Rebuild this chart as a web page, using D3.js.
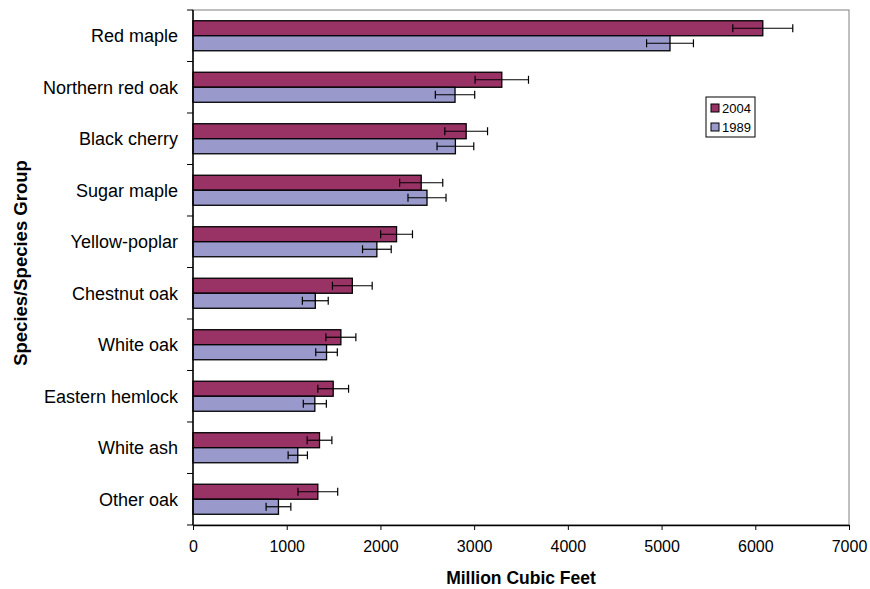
<!DOCTYPE html>
<html>
<head>
<meta charset="utf-8">
<script src="https://cdn.jsdelivr.net/npm/d3@7"></script>
<style>
body{margin:0;background:#fff;}
text{font-family:"Liberation Sans",Arial,sans-serif;}
</style>
</head>
<body>
<svg id="c" width="870" height="589"></svg>
<script>
const categories = ["Red maple","Northern red oak","Black cherry","Sugar maple","Yellow-poplar","Chestnut oak","White oak","Eastern hemlock","White ash","Other oak"];
const seriesNames = ["2004","1989"];
const values2004 = [6080,3295,2915,2435,2172,1700,1578,1496,1350,1332];
const values1989 = [5090,2796,2800,2497,1962,1305,1425,1300,1118,912];
const err2004 = [320,285,228,230,170,212,160,164,132,212];
const err1989 = [250,210,196,203,153,138,115,123,103,132];
const xTicks = [0,1000,2000,3000,4000,5000,6000,7000];
const colors = ["#993366","#9999CC"];

const svg = d3.select("#c");
const L=193, R=849, T=10, B=525;
const x = d3.scaleLinear().domain([0,7000]).range([L,R]);
const y = d3.scaleBand().domain(categories).range([T,B]).paddingInner(0.417).paddingOuter(0.2087);
const ys = d3.scaleBand().domain(seriesNames).range([0,y.bandwidth()]);

// frame
svg.append("rect").attr("x",L).attr("y",T).attr("width",R-L).attr("height",B-T)
  .attr("fill","none").attr("stroke","#808080").attr("stroke-width",1);

const data = [values2004, values1989];
const errs = [err2004, err1989];
seriesNames.forEach((s,si)=>{
  const g = svg.append("g");
  g.selectAll("rect").data(categories).join("rect")
    .attr("x",x(0)).attr("y",d=>y(d)+ys(s))
    .attr("width",(d,i)=>x(data[si][i])-x(0)).attr("height",ys.bandwidth())
    .attr("fill",colors[si]).attr("stroke","#000").attr("stroke-width",1.3);
});
seriesNames.forEach((s,si)=>{
  const g = svg.append("g").attr("stroke","#000").attr("stroke-width",1.2);
  categories.forEach((c,i)=>{
    const cy = y(c)+ys(s)+ys.bandwidth()/2;
    const v=data[si][i], e=errs[si][i];
    g.append("line").attr("x1",x(v-e)).attr("x2",x(v+e)).attr("y1",cy).attr("y2",cy);
    g.append("line").attr("x1",x(v-e)).attr("x2",x(v-e)).attr("y1",cy-4).attr("y2",cy+4);
    g.append("line").attr("x1",x(v+e)).attr("x2",x(v+e)).attr("y1",cy-4).attr("y2",cy+4);
  });
});

// x axis
const xa = svg.append("g").attr("transform",`translate(0,${B})`)
  .call(d3.axisBottom(x).tickValues(xTicks).tickSize(5).tickSizeOuter(0).tickPadding(11).tickFormat(d3.format("d")));
xa.select(".domain").attr("stroke","#000").attr("stroke-width",1.5);
xa.selectAll(".tick line").attr("stroke","#000");
xa.selectAll("text").attr("font-size",16).attr("fill","#000").attr("font-family","Liberation Sans, Arial, sans-serif");

// y axis
const yTickPos = d3.range(categories.length+1).map(i=>T+i*y.step());
const ya = svg.append("g");
ya.append("line").attr("x1",L).attr("x2",L).attr("y1",T).attr("y2",B).attr("stroke","#000").attr("stroke-width",1.5);
ya.selectAll(".yt").data(yTickPos).join("line").attr("x1",L-6).attr("x2",L).attr("y1",d=>d).attr("y2",d=>d).attr("stroke","#000");
ya.selectAll(".yl").data(categories).join("text")
  .attr("x",178).attr("y",d=>y(d)+y.bandwidth()/2).attr("dy","0.35em")
  .attr("text-anchor","end").attr("font-size",18).text(d=>d);

// axis titles
svg.append("text").attr("x",521).attr("y",584).attr("text-anchor","middle")
  .attr("font-size",17.5).attr("font-weight","bold").text("Million Cubic Feet");
svg.append("text").attr("transform",`translate(27,263) rotate(-90)`).attr("text-anchor","middle")
  .attr("font-size",18.5).attr("font-weight","bold").text("Species/Species Group");

// legend
const lg = svg.append("g").attr("transform","translate(706,97)");
lg.append("rect").attr("width",49).attr("height",40).attr("fill","#fff").attr("stroke","#000").attr("stroke-width",1);
seriesNames.forEach((s,i)=>{
  lg.append("rect").attr("x",5).attr("y",7+i*19).attr("width",8).attr("height",8)
    .attr("fill",colors[i]).attr("stroke","#000").attr("stroke-width",1);
  lg.append("text").attr("x",16).attr("y",11+i*19).attr("dy","0.35em").attr("font-size",13).text(s);
});
</script>
</body>
</html>
